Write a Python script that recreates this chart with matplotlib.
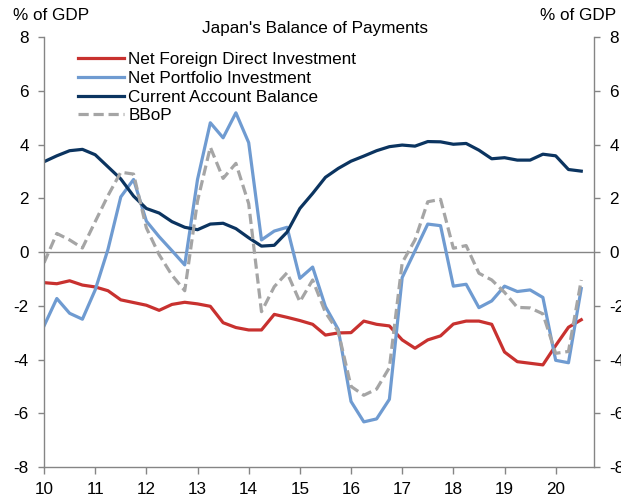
import numpy as np
import matplotlib
matplotlib.use("Agg")
import matplotlib.pyplot as plt

plt.rcParams["font.family"] = ["Liberation Sans", "DejaVu Sans"]
plt.rcParams["axes.unicode_minus"] = False

# Quarterly observations, 2010Q1 .. 2020Q3 (x axis in two-digit years)
quarters = 10 + 0.25 * np.arange(43)

net_fdi = [-1.14, -1.18, -1.07, -1.23, -1.30, -1.44, -1.78, -1.88, -1.98, -2.17,
           -1.95, -1.87, -1.93, -2.02, -2.63, -2.81, -2.90, -2.90, -2.32, -2.43,
           -2.55, -2.69, -3.09, -3.01, -3.00, -2.57, -2.69, -2.75, -3.27, -3.58,
           -3.27, -3.12, -2.68, -2.57, -2.57, -2.69, -3.72, -4.08, -4.14, -4.20,
           -3.48, -2.80, -2.52]

net_portfolio = [-2.75, -1.73, -2.28, -2.50, -1.41, 0.10, 2.05, 2.70, 1.15, 0.57,
                 0.05, -0.48, 2.70, 4.81, 4.25, 5.18, 4.07, 0.45, 0.78, 0.92,
                 -0.98, -0.56, -2.03, -2.88, -5.56, -6.32, -6.21, -5.48, -0.95, 0.04,
                 1.04, 0.98, -1.27, -1.20, -2.07, -1.82, -1.27, -1.47, -1.41, -1.69,
                 -4.03, -4.12, -1.36]

current_account = [3.36, 3.58, 3.77, 3.82, 3.62, 3.17, 2.72, 2.08, 1.62, 1.45,
                   1.13, 0.92, 0.83, 1.04, 1.07, 0.87, 0.53, 0.22, 0.25, 0.74,
                   1.62, 2.18, 2.78, 3.11, 3.38, 3.57, 3.77, 3.92, 3.98, 3.94,
                   4.11, 4.10, 4.01, 4.04, 3.79, 3.47, 3.51, 3.42, 3.42, 3.64,
                   3.58, 3.07, 3.01]

bbop = [-0.40, 0.69, 0.45, 0.15, 1.13, 2.10, 2.97, 2.90, 0.90, -0.10,
        -0.86, -1.44, 1.90, 3.90, 2.74, 3.30, 1.80, -2.22, -1.29, -0.77,
        -1.85, -1.04, -2.25, -2.96, -5.00, -5.33, -5.10, -4.30, -0.40, 0.45,
        1.87, 1.96, 0.14, 0.24, -0.79, -1.04, -1.50, -2.06, -2.08, -2.30,
        -3.77, -3.70, -1.04]

year_ticks = list(range(10, 21))
y_ticks = list(range(-8, 9, 2))

FS = 12.3
grey = "#858585"

fig = plt.figure(figsize=(6.21, 4.99), dpi=100)
ax = fig.add_axes([0.0709, 0.0641, 0.8857, 0.8617])

lw = 2.3
ax.plot(quarters, net_fdi, color="#C8312F", lw=lw, label="Net Foreign Direct Investment")
ax.plot(quarters, net_portfolio, color="#6F9BD1", lw=lw, label="Net Portfolio Investment")
ax.plot(quarters, current_account, color="#0B3460", lw=lw, label="Current Account Balance")
ax.plot(quarters, bbop, color="#A5A5A5", lw=lw, dashes=(3.2, 1.5), label="BBoP")

ax.axhline(0, color=grey, lw=1.0, zorder=0)

ax.set_xlim(10, 20.75)
ax.set_ylim(-8, 8)
ax.set_xticks(year_ticks)
ax.set_xticklabels([str(t) for t in year_ticks])
ax.set_yticks(y_ticks)

for side in ["left", "right", "bottom"]:
    ax.spines[side].set_color(grey)
    ax.spines[side].set_linewidth(1.0)
ax.spines["top"].set_visible(False)

# labels on both sides; the right-hand ones run off the figure edge
ax.yaxis.set_ticks_position("both")
ax.tick_params(axis="y", direction="out", length=4, width=1, color=grey,
               labelsize=FS, pad=7, labelright=True)
ax.tick_params(axis="x", direction="out", length=5, width=1, color=grey,
               labelsize=FS, pad=6)

ax.legend(loc="upper left", bbox_to_anchor=(0.1256, 0.8954),
          bbox_transform=fig.transFigure, frameon=False, fontsize=FS,
          borderpad=0, borderaxespad=0, labelspacing=0.22,
          handlelength=2.7, handletextpad=0.25)

fig.text(0.507, 0.942, "Japan's Balance of Payments", fontsize=FS,
         ha="center", va="center")
fig.text(0.021, 0.969, "% of GDP", fontsize=FS, ha="left", va="center")
fig.text(0.870, 0.969, "% of GDP", fontsize=FS, ha="left", va="center")

fig.savefig("out.png", dpi=100)
